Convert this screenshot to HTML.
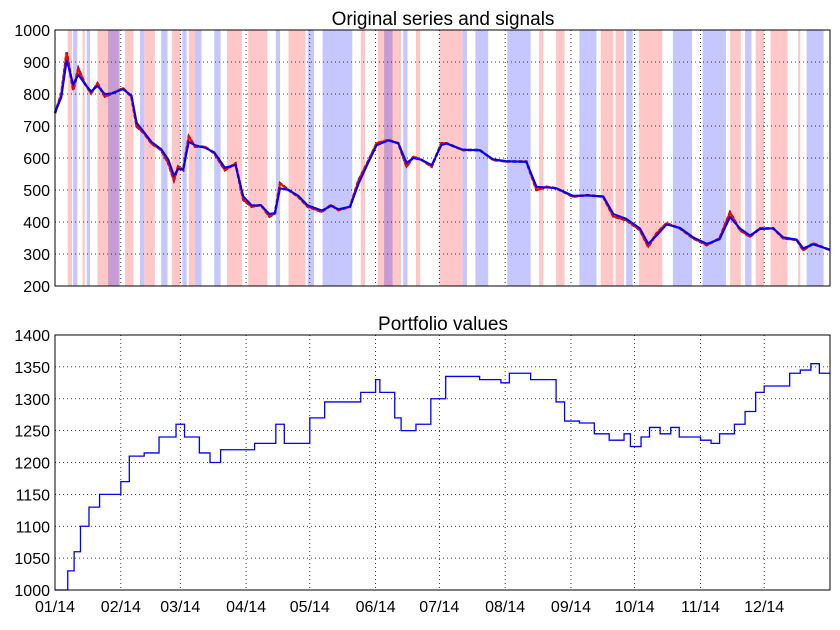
<!DOCTYPE html>
<html><head><meta charset="utf-8"><style>
body{margin:0;background:#fff;}
svg text{font-family:"Liberation Sans",sans-serif;}
</style></head><body>
<svg id="c" width="840" height="625" xmlns="http://www.w3.org/2000/svg"></svg>
<script>
const monthLabels=["01/14","02/14","03/14","04/14","05/14","06/14","07/14","08/14","09/14","10/14","11/14","12/14"];
const monthDays=[0,31,59,90,120,151,181,212,243,273,304,334];
const topTicks=[200,300,400,500,600,700,800,900,1000];
const botTicks=[1000,1050,1100,1150,1200,1250,1300,1350,1400];
const priceDays=[0,3,5.5,8.6,11,14,17,20,23.5,27,32,36,38.5,42,45.5,50,53.4,56,58,60.4,63,66,70.6,75,80,85,88.7,92.6,97,101,103.6,106,110,114.6,119,125.6,130,133.5,139,143,147,151.5,157,161.7,165.6,168.8,172.7,177.4,182,184.4,192,200,206.4,212.7,222,226.8,231.5,236.2,244,250.4,258.2,263,269,275.5,279.4,283.4,288,294.3,300.6,307,313,317.9,322.6,327.3,332,338.3,343,349.3,352.4,357.1,365];
const priceVals=[740,800,930,812,880,833,802,833,792,802,818,792,698,677,645,625,583,531,573,562,667,635,635,615,562,583,469,448,453,417,427,521,500,479,448,432,453,437,448,531,583,646,656,646,573,604,594,573,646,646,625,625,594,589,589,500,510,505,479,484,479,417,406,375,323,365,396,380,349,328,349,430,375,354,380,380,349,344,312,333,312];
const slowVals=[742,790,905,830,860,832,808,825,800,802,815,795,710,680,650,628,595,545,565,565,650,640,632,618,570,578,480,452,452,425,428,505,500,482,452,436,450,440,448,520,578,640,655,646,585,600,594,578,640,645,626,624,596,590,588,510,508,505,482,483,480,425,410,380,332,358,392,382,352,332,346,415,380,358,378,380,352,345,318,330,314];
const redSig=[[6,8],[13,14],[20,30],[33,37],[42,47],[55,59],[63,66],[81,88],[91,100],[110,118],[144,146],[152,163],[170,172],[181,192],[228,230],[236,240],[257,263],[264,268],[275,286],[318,323],[330,334],[337,345],[350,351]];
const blueSig=[[8.5,10.5],[15,16.5],[25,30.6],[40,42],[50,53],[60,62],[66,69],[75,78],[104,106],[119,122],[126,140],[155,159],[164,166],[192,194],[198,204],[213,224],[247,255],[269,272],[291,300],[305,316],[325,328],[354,362]];
const portDays=[0,6,6,9,12,16,21,28,31,35,42,49,57,61,68,73,78,87,94,99,104,108,115,120,127,137,144,151,153,160,163,170,177,184,191,200,210,214,224,231,236,240,247,254,261,268,271,276,280,285,290,294,304,309,313,320,325,330,334,341,346,351,356,360,365];
const portVals=[1000,1000,1030,1060,1100,1130,1150,1150,1170,1210,1215,1240,1260,1240,1215,1200,1220,1220,1230,1230,1260,1230,1230,1270,1295,1295,1310,1330,1310,1270,1250,1260,1300,1335,1335,1330,1325,1340,1330,1330,1295,1265,1262,1245,1235,1245,1225,1240,1255,1245,1255,1240,1235,1230,1245,1260,1280,1310,1320,1320,1340,1345,1355,1340,1340];

const NS="http://www.w3.org/2000/svg";
const svg=document.getElementById('c');
function mk(t,a,p){const e=document.createElementNS(NS,t);for(const k in a)e.setAttribute(k,a[k]);(p||svg).appendChild(e);return e;}
const L=55,R=830;
const x=d=>L+d*(R-L)/365;
const yT=v=>286-(v-200)*(256/800);
const yB=v=>590-(v-1000)*(255/400);

// top axes
const gTop=mk('g',{});


redSig.forEach(s=>{const r=mk('rect',{x:x(s[0]),y:30,width:Math.max(1,x(s[1])-x(s[0])),height:256,fill:'rgba(255,0,0,0.22)'},gTop);

});
blueSig.forEach(s=>{const r=mk('rect',{x:x(s[0]),y:30,width:Math.max(1,x(s[1])-x(s[0])),height:256,fill:'rgba(0,0,255,0.22)'},gTop);

});
topTicks.forEach(v=>{mk('line',{x1:L,x2:R,y1:yT(v),y2:yT(v),stroke:'#000','stroke-dasharray':'1,3','stroke-width':0.8},gTop);
const t=mk('text',{x:50,y:yT(v)+6,'text-anchor':'end','font-size':16},gTop);t.textContent=v;

});
monthDays.forEach(d=>mk('line',{x1:x(d),x2:x(d),y1:30,y2:286,stroke:'#000','stroke-dasharray':'1,3','stroke-width':0.8},gTop));
const pts=(ds,vs,f)=>ds.map((d,i)=>x(d)+','+f(vs[i])).join(' ');
let pl=mk('polyline',{points:pts(priceDays,priceVals,yT),fill:'none',stroke:'#000','stroke-width':2.5,'stroke-dasharray':'4,2'},gTop);


pl=mk('polyline',{points:pts(priceDays,priceVals,yT),fill:'none',stroke:'#f00','stroke-width':2},gTop);


pl=mk('polyline',{points:pts(priceDays,slowVals,yT),fill:'none',stroke:'#00f','stroke-width':2},gTop);


mk('rect',{x:L,y:30,width:R-L,height:256,fill:'none',stroke:'#000','stroke-width':1},gTop);
let tt=mk('text',{x:443,y:25,'text-anchor':'middle','font-size':19},gTop);tt.textContent='Original series and signals';



// bottom axes
const gB=mk('g',{});


botTicks.forEach(v=>{mk('line',{x1:L,x2:R,y1:yB(v),y2:yB(v),stroke:'#000','stroke-dasharray':'1,3','stroke-width':0.8},gB);
const t=mk('text',{x:50,y:yB(v)+6,'text-anchor':'end','font-size':16},gB);t.textContent=v;

});
monthDays.forEach((d,i)=>{mk('line',{x1:x(d),x2:x(d),y1:335,y2:590,stroke:'#000','stroke-dasharray':'1,3','stroke-width':0.8},gB);
const t=mk('text',{x:x(d),y:612,'text-anchor':'middle','font-size':16},gB);t.textContent=monthLabels[i];

});
let sp='';portDays.forEach((d,i)=>{if(i===0)sp+='M'+x(d)+','+yB(portVals[i]);else sp+='H'+x(d)+'V'+yB(portVals[i]);});
pl=mk('path',{d:sp,fill:'none',stroke:'#00f','stroke-width':1.3},gB);


mk('rect',{x:L,y:335,width:R-L,height:255,fill:'none',stroke:'#000','stroke-width':1},gB);
tt=mk('text',{x:443,y:330,'text-anchor':'middle','font-size':19},gB);tt.textContent='Portfolio values';


</script>
</body></html>
